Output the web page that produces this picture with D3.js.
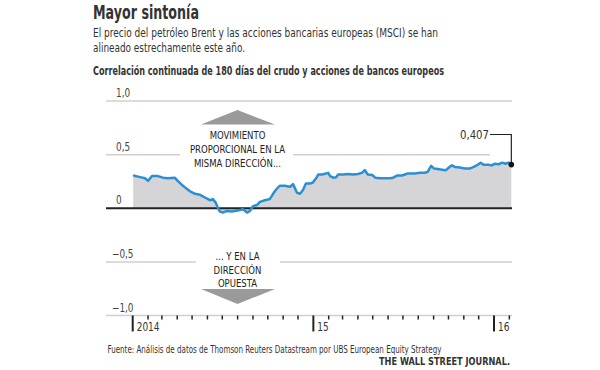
<!DOCTYPE html>
<html>
<head>
<meta charset="utf-8">
<script src="https://cdn.jsdelivr.net/npm/d3@7"></script>
<style>
  body { margin: 0; background: #fff; }
  svg { display: block; }
  text { font-family: "Liberation Sans Narrow", "Arial Narrow", "DejaVu Sans Condensed", sans-serif; fill: #333; }
  .grid { stroke: #cfcfcf; stroke-width: 1.5; }
  .zero { stroke: #222; stroke-width: 2; }
  .area { fill: #d5d5d8; }
  .line { fill: none; stroke: #2b8fd2; stroke-width: 2.5; stroke-linejoin: round; }
  .note { font-size: 11px; text-anchor: middle; fill: #222; }
  .ylab { font-size: 12px; fill: #444; }
  .xlab { font-size: 12px; fill: #333; }
</style>
</head>
<body>
<svg id="chart" width="600" height="370"></svg>
<script>
const width = 600, height = 370;
const plotLeft = 106, plotRight = 512;

// serie: correlacion a 180 dias
const dates = [
  "2014-01-02","2014-01-06","2014-01-16","2014-01-26","2014-02-01","2014-02-09","2014-02-21",
  "2014-03-03","2014-03-13","2014-03-27","2014-04-02","2014-04-10","2014-04-18","2014-04-26",
  "2014-05-07","2014-05-17","2014-05-27","2014-06-06","2014-06-12","2014-06-18","2014-06-22",
  "2014-06-26","2014-06-30","2014-07-02","2014-07-10","2014-07-20","2014-08-01","2014-08-12",
  "2014-08-20","2014-08-26","2014-09-01","2014-09-09","2014-09-15","2014-09-25","2014-10-05",
  "2014-10-11","2014-10-17","2014-10-25","2014-11-04","2014-11-15","2014-11-21","2014-11-29",
  "2014-12-05","2014-12-11","2014-12-17","2014-12-25","2014-12-31","2015-01-08","2015-01-11",
  "2015-01-19","2015-01-31","2015-02-04","2015-02-10","2015-02-16","2015-02-20","2015-03-02",
  "2015-03-12","2015-03-22","2015-04-01","2015-04-09","2015-04-15","2015-04-21","2015-04-30",
  "2015-05-06","2015-05-16","2015-05-26","2015-06-05","2015-06-11","2015-06-19","2015-06-29",
  "2015-07-05","2015-07-11","2015-07-21","2015-07-25","2015-08-04","2015-08-14","2015-08-20",
  "2015-08-27","2015-09-02","2015-09-10","2015-09-18","2015-09-26","2015-10-02","2015-10-08",
  "2015-10-14","2015-10-24","2015-11-03","2015-11-13","2015-11-21","2015-11-29","2015-12-05",
  "2015-12-11","2015-12-19","2015-12-28","2016-01-02","2016-01-10","2016-01-18","2016-01-24",
  "2016-01-30","2016-02-05"
];
const values = [
  0.31,0.30,0.29,0.28,0.255,0.30,0.30,
  0.285,0.28,0.285,0.255,0.22,0.19,0.16,
  0.135,0.125,0.10,0.075,0.085,0.05,0.005,
  -0.03,-0.035,-0.04,-0.025,-0.03,-0.02,-0.01,
  -0.04,-0.025,0.02,0.03,0.06,0.075,0.085,
  0.13,0.17,0.21,0.21,0.20,0.225,0.145,
  0.135,0.17,0.23,0.23,0.24,0.29,0.315,
  0.315,0.33,0.30,0.285,0.29,0.315,0.315,
  0.32,0.315,0.32,0.33,0.355,0.315,0.31,
  0.285,0.28,0.28,0.28,0.285,0.305,0.305,
  0.315,0.325,0.325,0.325,0.33,0.33,0.34,
  0.395,0.37,0.365,0.36,0.355,0.38,0.40,
  0.385,0.38,0.37,0.37,0.385,0.405,0.425,
  0.405,0.405,0.40,0.415,0.41,0.425,0.415,
  0.425,0.407
];
const lastLabel = "0,407";

const yTicks = [1, 0.5, 0, -0.5, -1];
const yTickLabels = ["1,0", "0,5", "0", "\u22120,5", "\u22121,0"];
const yearTicks = ["2014-01-01", "2015-01-01", "2016-01-01"];
const yearLabels = ["2014", "15", "16"];

const upNote = ["MOVIMIENTO", "PROPORCIONAL EN LA", "MISMA DIRECCIÓN..."];
const downNote = ["... Y EN LA", "DIRECCIÓN", "OPUESTA"];

const parse = d3.timeParse("%Y-%m-%d");
const data = dates.map((d, i) => ({date: parse(d), value: values[i]}));

const svg = d3.select('#chart');

// textos algo mas estrechos: se ajusta el ancho medido con un factor
function squeeze(sel, f) {
  sel.each(function() {
    const w = this.getComputedTextLength();
    d3.select(this).attr('textLength', w * f).attr('lengthAdjust', 'spacingAndGlyphs');
  });
  return sel;
}

const x = d3.scaleTime()
    .domain([parse("2014-01-01"), parse("2016-01-01")])
    .range([132.7, 494]);
const y = d3.scaleLinear()
    .domain([-1, 1])
    .range([315.5, 101]);

// encabezado
svg.append('text').attr('x', 93).attr('y', 19)
    .attr('font-size', 20).attr('font-weight', 'bold').attr('fill', '#1a1a1a')
    .attr('textLength', 106).attr('lengthAdjust', 'spacingAndGlyphs')
    .text('Mayor sintonía');
svg.append('text').attr('x', 93).attr('y', 37)
    .attr('font-size', 13).attr('fill', '#333')
    .attr('textLength', 345).attr('lengthAdjust', 'spacingAndGlyphs')
    .text('El precio del petróleo Brent y las acciones bancarias europeas (MSCI) se han');
svg.append('text').attr('x', 93).attr('y', 52)
    .attr('font-size', 13).attr('fill', '#333')
    .attr('textLength', 152).attr('lengthAdjust', 'spacingAndGlyphs')
    .text('alineado estrechamente este año.');
svg.append('text').attr('x', 93).attr('y', 75)
    .attr('font-size', 13).attr('font-weight', 'bold').attr('fill', '#1a1a1a')
    .attr('textLength', 351).attr('lengthAdjust', 'spacingAndGlyphs')
    .text('Correlación continuada de 180 días del crudo y acciones de bancos europeos');

// lineas de cuadricula (con huecos para las notas)
const gridSegs = {
  "1": [[plotLeft, plotRight]],
  "0.5": [[plotLeft, 180], [293, 490]],
  "-0.5": [[plotLeft, 196], [280, plotRight]],
  "-1": [[plotLeft, plotRight]]
};
Object.keys(gridSegs).forEach(k => {
  gridSegs[k].forEach(s => {
    svg.append('line').attr('class', 'grid')
        .attr('x1', s[0]).attr('x2', s[1])
        .attr('y1', y(+k)).attr('y2', y(+k));
  });
});

yTicks.forEach((t, i) => {
  const lab = svg.append('text').attr('class', 'ylab')
      .attr('x', t < 0 ? 112 : 116)
      .attr('y', y(t) - 4)
      .text(yTickLabels[i]);
  squeeze(lab, 0.82);
});

// area y linea
const area = d3.area()
    .x(d => x(d.date))
    .y0(y(0))
    .y1(d => y(d.value));
svg.append('path').datum(data).attr('class', 'area').attr('d', area);

svg.append('line').attr('class', 'zero')
    .attr('x1', plotLeft).attr('x2', plotRight)
    .attr('y1', y(0)).attr('y2', y(0));

const line = d3.line()
    .x(d => x(d.date))
    .y(d => y(d.value));
svg.append('path').datum(data).attr('class', 'line').attr('d', line);

// eje x
const months = d3.timeMonth.range(parse("2014-01-01"), parse("2016-02-02"));
svg.append('g').selectAll('line').data(months).join('line')
    .attr('x1', d => x(d)).attr('x2', d => x(d))
    .attr('y1', y(-1)).attr('y2', d => d.getMonth() === 0 ? y(-1) + 16 : y(-1) + 4)
    .attr('stroke', '#222')
    .attr('stroke-width', d => d.getMonth() === 0 ? 2 : 1.5);
yearTicks.forEach((t, i) => {
  const lab = svg.append('text').attr('class', 'xlab')
      .attr('x', x(parse(t)) + 4)
      .attr('y', y(-1) + 15)
      .text(yearLabels[i]);
  squeeze(lab, 0.83);
});

// notas con flechas
const cx = 237.5;
svg.append('path')
    .attr('d', `M${cx - 36.5},124.5 L${cx},110 L${cx + 37.5},124.5 Z`)
    .attr('fill', '#9a9a9a');
upNote.forEach((t, i) => {
  const lab = svg.append('text').attr('class', 'note')
      .attr('x', cx).attr('y', 139 + i * 14).text(t);
  squeeze(lab, 0.86);
});
downNote.forEach((t, i) => {
  const lab = svg.append('text').attr('class', 'note')
      .attr('x', cx).attr('y', 260 + i * 13.5).text(t);
  squeeze(lab, 0.86);
});
svg.append('path')
    .attr('d', `M${cx - 36.5},289 L${cx},304 L${cx + 37.5},289 Z`)
    .attr('fill', '#9a9a9a');

// etiqueta del ultimo valor
const last = data[data.length - 1];
svg.append('path')
    .attr('d', `M490,134.5 H${x(last.date)} V${y(last.value)}`)
    .attr('fill', 'none').attr('stroke', '#222').attr('stroke-width', 1.2);
svg.append('circle')
    .attr('cx', x(last.date)).attr('cy', y(last.value)).attr('r', 2.8)
    .attr('fill', '#111');
svg.append('text').attr('x', 489).attr('y', 139)
    .attr('text-anchor', 'end').attr('font-size', 13).attr('fill', '#333')
    .attr('textLength', 29).attr('lengthAdjust', 'spacingAndGlyphs')
    .text(lastLabel);

// pie
svg.append('text').attr('x', 107.5).attr('y', 353)
    .attr('font-size', 10.5).attr('fill', '#333')
    .attr('textLength', 334).attr('lengthAdjust', 'spacingAndGlyphs')
    .text('Fuente: Análisis de datos de Thomson Reuters Datastream por UBS European Equity Strategy');
svg.append('text').attr('x', 379).attr('y', 364.5)
    .attr('font-size', 10.5).attr('font-weight', 'bold').attr('fill', '#222')
    .attr('font-family', '"Liberation Serif", "DejaVu Serif", serif')
    .attr('textLength', 131).attr('lengthAdjust', 'spacingAndGlyphs')
    .text('THE WALL STREET JOURNAL.');
</script>
</body>
</html>
